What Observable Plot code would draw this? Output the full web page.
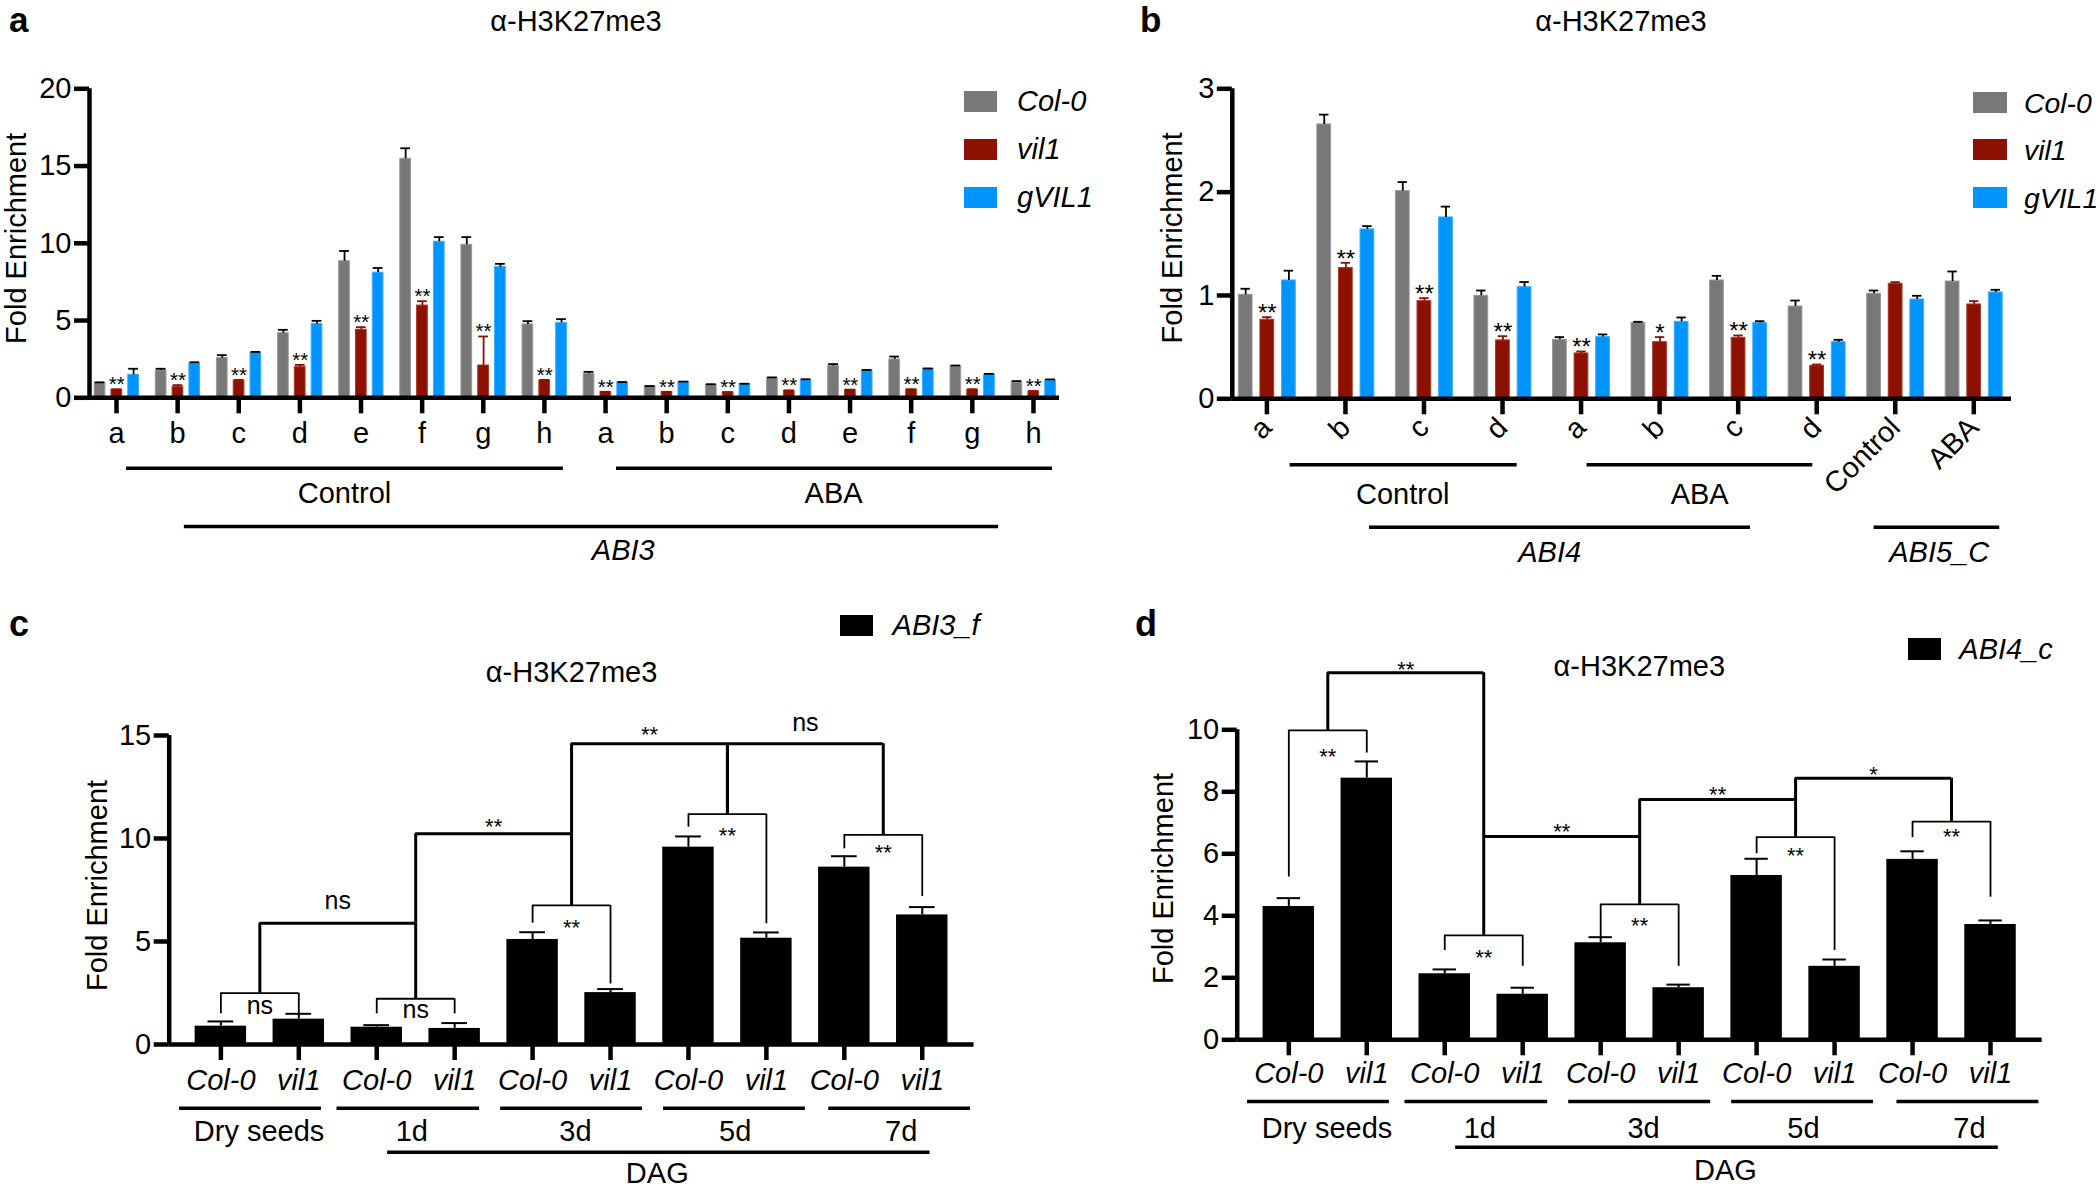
<!DOCTYPE html>
<html>
<head>
<meta charset="utf-8">
<script src="https://cdn.jsdelivr.net/npm/d3@7"></script>
<script src="https://cdn.jsdelivr.net/npm/@observablehq/plot@0.6"></script>
<style>
html, body { margin: 0; padding: 0; background: #fff; }
#fig { position: relative; width: 2100px; height: 1187px; overflow: hidden;
  font-family: "Liberation Sans", Arial, Helvetica, sans-serif; color: #000; background: #fff; }
.lbl { position: absolute; white-space: nowrap; line-height: 1; }
.sw { position: absolute; }
</style>
</head>
<body>
<div id="fig"></div>
<script>
// ---------------- DATA ----------------
const seriesNames = ["Col-0", "vil1", "gVIL1"];
const seriesColors = ["#787878", "#8c1100", "#0094ff"];
const seriesEdges = ["#9a9a9a", "#a8392a", "#3aaeff"];
const errColors = ["#000000", "#8c1100", "#000000"];

// Panel a: ABI3 sites a–h, Control then ABA
const sitesA = ["a","b","c","d","e","f","g","h","a","b","c","d","e","f","g","h"];
const colA   = [0.95,1.77,2.57,4.18,8.84,15.47,9.90,4.75, 1.55,0.73,0.82,1.25,2.05,2.48,2.03,0.99];
const colAe  = [0.05,0.11,0.19,0.22,0.66,0.68,0.50,0.21, 0.13,0.03,0.06,0.07,0.13,0.19,0.06,0.09];
const vilA   = [0.52,0.69,1.10,1.98,4.40,5.97,2.09,1.12, 0.37,0.37,0.35,0.45,0.50,0.52,0.52,0.41];
const vilAe  = [0.03,0.13,0.06,0.15,0.17,0.28,1.88,0.04, 0.02,0.02,0.02,0.03,0.03,0.03,0.03,0.03];
const gvA    = [1.49,2.22,2.91,4.78,8.10,10.10,8.46,4.85, 0.97,1.01,0.88,1.12,1.75,1.86,1.51,1.12];
const gvAe   = [0.39,0.08,0.06,0.20,0.30,0.30,0.21,0.24, 0.05,0.04,0.03,0.08,0.05,0.04,0.04,0.07];
const starsA = ["**","**","**","**","**","**","**","**","**","**","**","**","**","**","**","**"];

// Panel b: ABI4 sites a–d (Control, ABA), ABI5_C (Control, ABA)
const sitesB = ["a","b","c","d","a","b","c","d","Control","ABA"];
const colB   = [1.006,2.655,2.010,0.997,0.571,0.735,1.145,0.893,1.016,1.135];
const colBe  = [0.059,0.095,0.087,0.051,0.026,0.010,0.045,0.058,0.032,0.097];
const vilB   = [0.765,1.265,0.945,0.565,0.439,0.548,0.590,0.319,1.113,0.913];
const vilBe  = [0.025,0.051,0.029,0.041,0.019,0.049,0.023,0.013,0.016,0.032];
const gvB    = [1.145,1.639,1.755,1.080,0.597,0.745,0.732,0.548,0.961,1.029];
const gvBe   = [0.095,0.032,0.105,0.050,0.026,0.042,0.019,0.023,0.036,0.026];
const starsB = ["**","**","**","**","**","*","**","**","",""];

// Panels c, d: genotypes across time points
const genoCD = ["Col-0","vil1","Col-0","vil1","Col-0","vil1","Col-0","vil1","Col-0","vil1"];
const abi3f  = [0.89,1.23,0.84,0.78,5.10,2.52,9.58,5.16,8.61,6.29];
const abi3fE = [0.23,0.26,0.10,0.26,0.35,0.17,0.52,0.28,0.53,0.38];
const abi4c  = [4.30,8.44,2.13,1.47,3.13,1.68,5.30,2.37,5.82,3.72];
const abi4cE = [0.27,0.54,0.14,0.21,0.18,0.10,0.54,0.22,0.26,0.13];

// Significance brackets (x in category index, y in fold enrichment)
const bracketsC = [
  {x1:0,   x2:1,   top:2.49,  l:1.49,  r:1.49,  label:"ns", ly:1.80,  thick:false},
  {x1:2,   x2:3,   top:2.22,  l:1.49,  r:1.49,  label:"ns", ly:1.60,  thick:false},
  {x1:0.5, x2:2.5, top:5.89,  l:2.49,  r:2.22,  label:"ns", ly:6.88,  thick:true},
  {x1:2.5, x2:4.5, top:10.23, l:5.89,  r:6.75,  label:"**", ly:10.87, thick:true},
  {x1:4,   x2:5,   top:6.75,  l:5.89,  r:2.94,  label:"**", ly:5.94,  thick:false},
  {x1:6,   x2:7,   top:11.18, l:10.55, r:5.86,  label:"**", ly:10.39, thick:false},
  {x1:8,   x2:9,   top:10.18, l:9.50,  r:7.18,  label:"**", ly:9.58,  thick:false},
  {x1:4.5, x2:6.5, top:14.6,  l:10.23, r:11.18, label:"**", ly:15.32, thick:true},
  {x1:6.5, x2:8.5, top:14.6,  l:11.18, r:10.18, label:"ns", ly:15.53, thick:true}
];
const bracketsD = [
  {x1:0,   x2:1,   top:9.98,  l:5.25, r:9.25, label:"**", ly:9.33,  thick:false},
  {x1:0.5, x2:2.5, top:11.84, l:9.98, r:3.37, label:"**", ly:12.13, thick:true},
  {x1:2,   x2:3,   top:3.37,  l:2.88, r:2.37, label:"**", ly:2.83,  thick:false},
  {x1:2.5, x2:4.5, top:6.56,  l:6.56, r:4.37, label:"**", ly:6.91,  thick:true},
  {x1:4.5, x2:6.5, top:7.75,  l:6.56, r:6.54, label:"**", ly:8.10,  thick:true},
  {x1:6.5, x2:8.5, top:8.44,  l:7.75, r:7.04, label:"*",  ly:8.74,  thick:true},
  {x1:4,   x2:5,   top:4.37,  l:3.31, r:2.37, label:"**", ly:3.85,  thick:false},
  {x1:6,   x2:7,   top:6.54,  l:6.00, r:2.88, label:"**", ly:6.13,  thick:false},
  {x1:8,   x2:9,   top:7.04,  l:6.52, r:4.60, label:"**", ly:6.72,  thick:false}
];

// Category group annotations below the axes
const groupsA1 = [{label:"Control", from:0.164, to:7.31, at:3.73}, {label:"ABA", from:8.18, to:15.31, at:11.73}];
const groupsA2 = [{label:"ABI3", from:1.11, to:14.43, at:8.29}];
const groupsB1 = [{label:"Control", from:0.295, to:3.186, at:1.73}, {label:"ABA", from:4.076, to:6.95, at:5.51}];
const groupsB2 = [{label:"ABI4", from:1.306, to:6.157, at:3.6}, {label:"ABI5_C", from:7.73, to:9.33, at:8.56}];
const timeGroups = [
  {label:"Dry seeds", from:-0.53, to:1.29, at:0.49},
  {label:"1d", from:1.49, to:3.32, at:2.45},
  {label:"3d", from:3.59, to:5.41, at:4.55},
  {label:"5d", from:5.68, to:7.50, at:6.60},
  {label:"7d", from:7.80, to:9.62, at:8.73}
];
const dagGroup = [{label:"DAG", from:2.14, to:9.10, at:5.6}];

// ---------------- RENDER ----------------
const W = 2100, H = 1187;
const FONT = '"Liberation Sans", Arial, Helvetica, sans-serif';
const fig = document.getElementById("fig");
const OFF = [-0.27, 0.005, 0.28], BW = 0.175;

function makePlot(g, marks) {
  const svg = Plot.plot({
    width: W, height: H,
    marginLeft: g.left, marginRight: W - g.right, marginTop: g.top, marginBottom: H - g.bottom,
    x: {type: "linear", domain: g.xDomain, axis: null},
    y: {type: "linear", domain: [0, g.yMax], axis: null},
    style: {position: "absolute", left: "0px", top: "0px", background: "transparent",
            fontFamily: FONT, fontSize: "29px", overflow: "visible"},
    marks
  });
  fig.appendChild(svg);
}

function frameMarks(g, cats, opts) {
  return [
    Plot.ruleY([0], {strokeWidth: 4.5, stroke: "#000"}),
    Plot.ruleX([g.xDomain[0]], {y1: 0, y2: g.yMax, strokeWidth: 4.5, stroke: "#000"}),
    Plot.axisY({ticks: g.yTicks, tickFormat: d => String(d), tickSize: 15, tickPadding: 3,
                strokeWidth: 4.5, fontSize: 29, label: null}),
    Plot.axisX({ticks: d3.range(cats.length), tickFormat: i => cats[i], tickSize: 16,
                tickPadding: opts.tickPadding, strokeWidth: 4.5, fontSize: 29, label: null,
                fontStyle: opts.italic ? "italic" : "normal",
                ...(opts.rotate ? {tickRotate: opts.rotate} : {})}),
    Plot.text(["Fold Enrichment"], {frameAnchor: "left", textAnchor: "middle", lineAnchor: "middle",
                                    rotate: -90, dx: g.ylabDx, dy: g.ylabDy, fontSize: 29})
  ];
}

function groupMarks(groups, lineDy, textDy, italic) {
  return [
    Plot.ruleY(groups, {y: () => 0, x1: "from", x2: "to", dy: lineDy, strokeWidth: 3.5, stroke: "#000"}),
    Plot.text(groups, {x: "at", y: () => 0, text: "label", dy: textDy, lineAnchor: "bottom",
                       fontSize: 29, fontStyle: italic ? "italic" : "normal"})
  ];
}

function groupedBars(series, errs, stars, cap, starFont, starDy) {
  const marks = [];
  series.forEach((vals, s) => {
    const rows = vals.map((v, i) => ({i, v, e: errs[s][i], star: s === 1 ? stars[i] : ""}));
    const pos = d => d.i + OFF[s];
    marks.push(Plot.rectY(rows, {x1: d => pos(d) - BW / 2, x2: d => pos(d) + BW / 2, y1: () => 0, y2: "v",
                                  fill: seriesColors[s], stroke: seriesEdges[s], strokeWidth: 1}));
    marks.push(Plot.ruleX(rows, {x: pos, y1: "v", y2: d => d.v + d.e, stroke: errColors[s], strokeWidth: 1.8}));
    marks.push(Plot.ruleY(rows, {y: d => d.v + d.e, x1: d => pos(d) - cap, x2: d => pos(d) + cap,
                                  stroke: errColors[s], strokeWidth: 1.8}));
    if (s === 1) {
      marks.push(Plot.text(rows.filter(d => d.star), {x: pos, y: d => d.v + d.e, text: "star",
                            lineAnchor: "bottom", dy: starDy, fontSize: starFont}));
    }
  });
  return marks;
}

function singleBars(vals, errs, cap) {
  const rows = vals.map((v, i) => ({i, v, e: errs[i]}));
  return [
    Plot.rectY(rows, {x1: d => d.i - 0.33, x2: d => d.i + 0.33, y1: () => 0, y2: "v", fill: "#000"}),
    Plot.ruleX(rows, {x: "i", y1: "v", y2: d => d.v + d.e, stroke: "#000", strokeWidth: 2}),
    Plot.ruleY(rows, {y: d => d.v + d.e, x1: d => d.i - cap, x2: d => d.i + cap, stroke: "#000", strokeWidth: 2})
  ];
}

function bracketMarks(br) {
  const marks = [];
  for (const [thick, sw] of [[true, 3], [false, 1.8]]) {
    const b = br.filter(d => d.thick === thick);
    marks.push(Plot.ruleY(b, {y: "top", x1: "x1", x2: "x2", strokeWidth: sw, stroke: "#000"}));
    marks.push(Plot.ruleX(b, {x: "x1", y1: "top", y2: "l", strokeWidth: sw, stroke: "#000"}));
    marks.push(Plot.ruleX(b, {x: "x2", y1: "top", y2: "r", strokeWidth: sw, stroke: "#000"}));
  }
  marks.push(Plot.text(br.filter(d => d.label === "ns"), {x: d => (d.x1 + d.x2) / 2, y: "ly", text: "label",
              lineAnchor: "bottom", dy: 6.5, fontSize: 25}));
  marks.push(Plot.text(br.filter(d => d.label !== "ns"), {x: d => (d.x1 + d.x2) / 2, y: "ly", text: "label",
              lineAnchor: "bottom", dy: 13, fontSize: 22}));
  return marks;
}

// Panel a
const gA = {left: 89, right: 1059, top: 88.3, bottom: 397.3, xDomain: [-0.4417, 15.426], yMax: 20,
            yTicks: [0, 5, 10, 15, 20], ylabDx: -72.5, ylabDy: -5};
makePlot(gA, [
  ...groupedBars([colA, vilA, gvA], [colAe, vilAe, gvAe], starsA, 0.08, 20.5, 2),
  ...frameMarks(gA, sitesA, {tickPadding: 9}),
  ...groupMarks(groupsA1, 70.4, 104.7, false),
  ...groupMarks(groupsA2, 128.7, 161.7, true)
]);

// Panel b
const gB = {left: 1231.8, right: 2011, top: 88.3, bottom: 398.3, xDomain: [-0.4405, 9.48], yMax: 3,
            yTicks: [0, 1, 2, 3], ylabDx: -60, ylabDy: -6};
makePlot(gB, [
  ...groupedBars([colB, vilB, gvB], [colBe, vilBe, gvBe], starsB, 0.06, 24, 4),
  ...frameMarks(gB, sitesB, {tickPadding: 8, rotate: -45}),
  ...groupMarks(groupsB1, 66, 104.7, false),
  ...groupMarks(groupsB2, 128.4, 163.4, true)
]);

// Panel c
const gC = {left: 168.7, right: 973.5, top: 735, bottom: 1044, xDomain: [-0.663, 9.664], yMax: 15,
            yTicks: [0, 5, 10, 15], ylabDx: -71, ylabDy: -4.5};
makePlot(gC, [
  ...singleBars(abi3f, abi3fE, 0.165),
  ...bracketMarks(bracketsC),
  ...frameMarks(gC, genoCD, {tickPadding: 9, italic: true}),
  ...groupMarks(timeGroups, 63.7, 96, false),
  ...groupMarks(dagGroup, 107.7, 138, false)
]);

// Panel d
const gD = {left: 1236.7, right: 2041.7, top: 729.3, bottom: 1039.3, xDomain: [-0.662, 9.663], yMax: 10,
            yTicks: [0, 2, 4, 6, 8, 10], ylabDx: -73.4, ylabDy: -6.3};
makePlot(gD, [
  ...singleBars(abi4c, abi4cE, 0.15),
  ...bracketMarks(bracketsD),
  ...frameMarks(gD, genoCD, {tickPadding: 7, italic: true}),
  ...groupMarks(timeGroups, 61.7, 97.7, false),
  ...groupMarks(dagGroup, 107.4, 140, false)
]);

// ---------------- HTML titles, panel letters, legends ----------------
function addText(txt, x, baseline, {size = 29, weight = "normal", style = "normal", center = false, lh = 1} = {}) {
  const el = document.createElement("div");
  el.className = "lbl";
  el.textContent = txt;
  el.style.fontSize = size + "px";
  el.style.lineHeight = String(lh);
  el.style.fontWeight = weight;
  el.style.fontStyle = style;
  el.style.left = x + "px";
  el.style.top = (baseline - ((lh - 1.117) / 2 + 0.905) * size) + "px";
  if (center) el.style.transform = "translateX(-50%)";
  fig.appendChild(el);
}
function addSwatch(color, x, y, w, h) {
  const el = document.createElement("div");
  el.className = "sw";
  Object.assign(el.style, {left: x + "px", top: y + "px", width: w + "px", height: h + "px", background: color});
  fig.appendChild(el);
}

addText("a", 9, 32, {size: 35, weight: "bold"});
addText("b", 1140, 32, {size: 35, weight: "bold"});
addText("c", 9, 636.7, {size: 36, weight: "bold"});
addText("d", 1135, 636.7, {size: 36, weight: "bold"});

addText("α-H3K27me3", 576, 32, {center: true});
addText("α-H3K27me3", 1621, 32, {center: true});
addText("α-H3K27me3", 571.6, 683, {center: true});
addText("α-H3K27me3", 1639.3, 677, {center: true});

const legA = {x: 964, tx: 1017, ys: [90.7, 138.7, 186.7], size: 29};
const legB = {x: 1973.3, tx: 2024, ys: [91.7, 139.3, 187.3], size: 28.4};
for (const leg of [legA, legB]) {
  seriesNames.forEach((name, s) => {
    addSwatch(seriesColors[s], leg.x, leg.ys[s], 33.4, 21);
    addText(name, leg.tx, leg.ys[s] + 21, {style: "italic", size: leg.size});
  });
}
addSwatch("#000", 840.2, 615, 32.7, 21);
addText("ABI3_f", 892.6, 636, {style: "italic"});
addSwatch("#000", 1908.3, 638.3, 32.4, 21.7);
addText("ABI4_c", 1959.3, 660, {style: "italic"});
</script>
</body>
</html>
